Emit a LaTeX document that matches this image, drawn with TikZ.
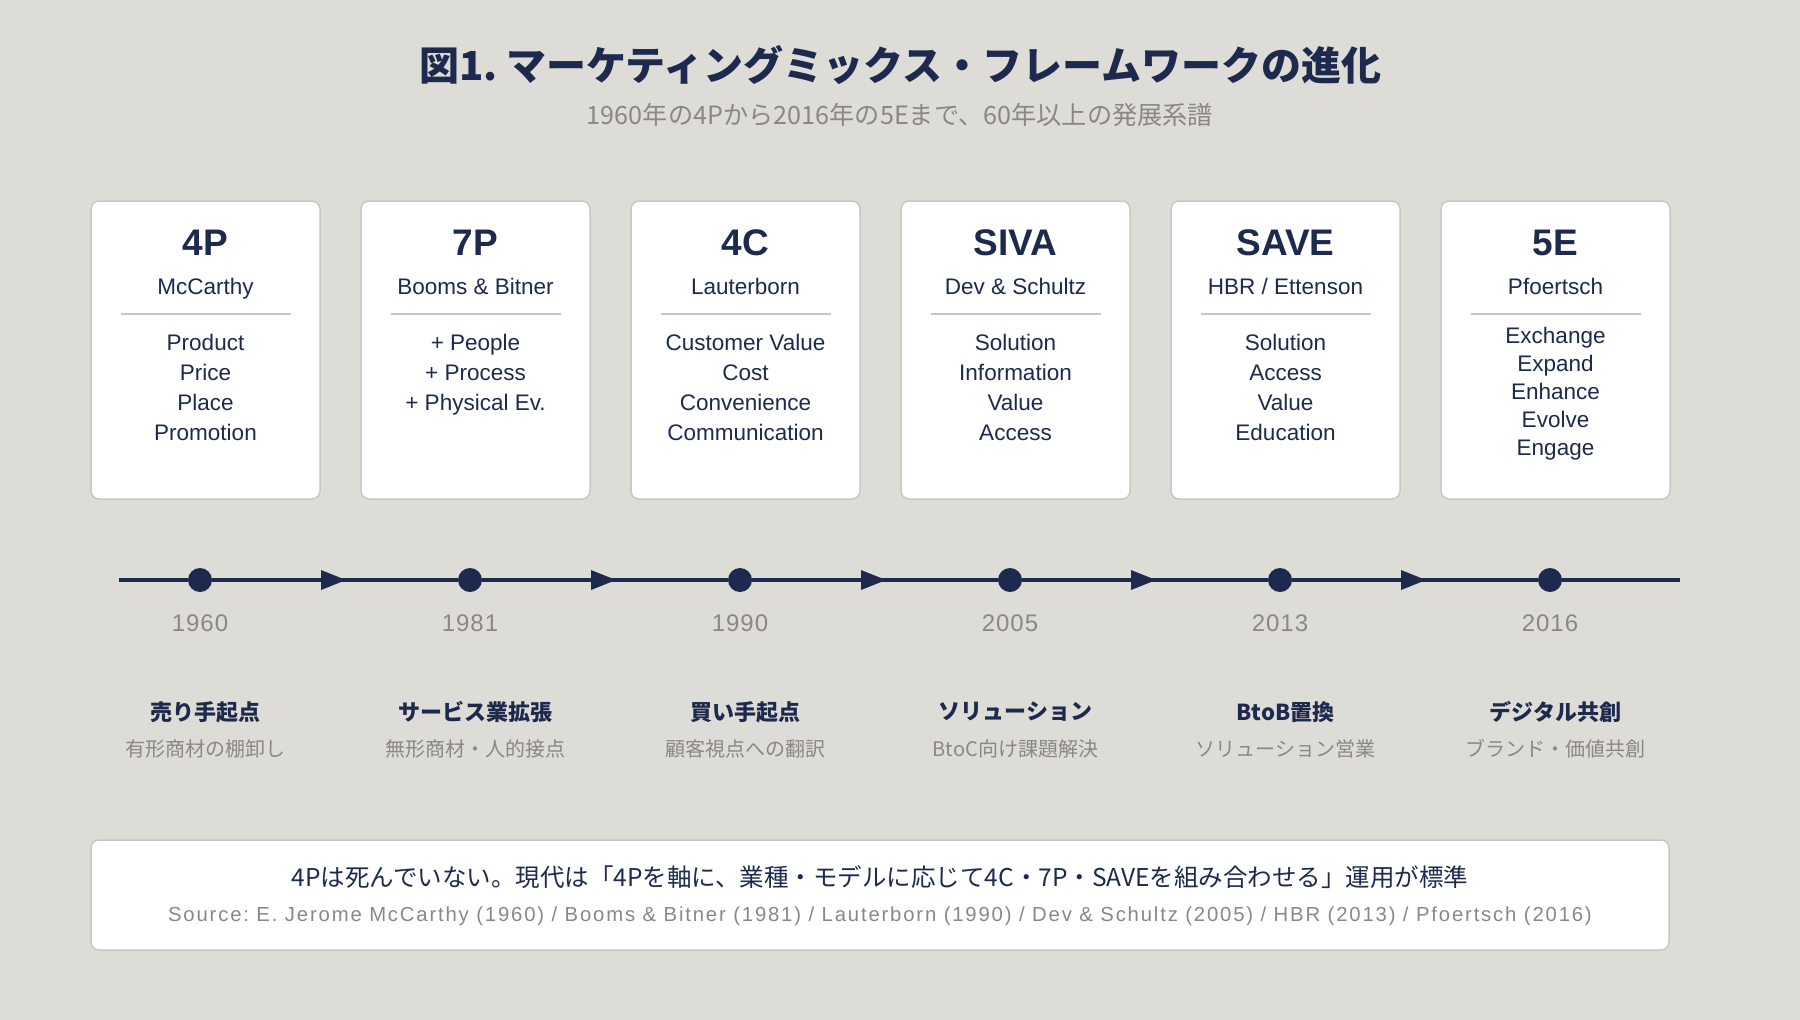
\documentclass[tikz,border=0pt]{standalone}
\usepackage{fontspec}
\setmainfont{Liberation Sans}
\newfontfamily\jp{Noto Sans CJK JP}
\newfontfamily\srcfont{Liberation Sans}[LetterSpace=9]
\newfontfamily\yearfont{Liberation Sans}[LetterSpace=4]
\usetikzlibrary{decorations.markings}
\definecolor{bg}{HTML}{DDDCD7}
\definecolor{navy}{HTML}{1E2A4D}
\definecolor{graytxt}{HTML}{8A8881}
\definecolor{cardline}{HTML}{C9C7C1}
\newcommand{\fs}[1]{\fontsize{#1}{#1}\selectfont}
\frenchspacing
\tikzset{
  card/.style={draw=cardline, line width=1.5pt, fill=white, rounded corners=8pt, minimum width=229pt, minimum height=298pt, inner sep=0pt},
  cardhead/.style={text=navy, font=\bfseries\fs{37}, inner sep=0pt, anchor=base},
  cardauthor/.style={text=navy, font=\fs{22.5}, inner sep=0pt, anchor=base},
  carditem/.style={text=navy, font=\fs{22.5}, inner sep=0pt, anchor=base},
  sep/.style={draw=cardline, line width=2pt},
  dotnode/.style={circle, fill=navy, minimum size=24pt, inner sep=0pt},
  tline/.style={draw=navy, line width=4pt},
  midarrow/.style={tline, postaction={decorate}, decoration={markings, mark=at position 0.5 with {\fill[navy] (-14pt,-10pt) -- (11pt,0pt) -- (-14pt,10pt) -- cycle;}}},
  year/.style={text=graytxt, font=\yearfont\fs{24}, inner sep=0pt, anchor=base},
  lab/.style={text=navy, font=\jp\bfseries\fs{22}, inner sep=0pt},
  sublab/.style={text=graytxt, font=\jp\fs{20}, inner sep=0pt},
}
\begin{document}
\begin{tikzpicture}[x=1pt, y=-1pt]
\useasboundingbox (0,0) rectangle (1800,1020);
\fill[bg] (0,0) rectangle (1800,1020);
% title
\node[text=navy, font=\jp\bfseries\fs{40}, inner sep=0pt] (title) at (900,65) {図1. マーケティングミックス・フレームワークの進化};
\node[text=graytxt, font=\jp\fs{25.2}, inner sep=0pt] (subtitle) at (900,115) {1960年の4Pから2016年の5Eまで、60年以上の発展系譜};
% cards
\foreach \i/\h/\a in {0/4P/McCarthy, 1/7P/{Booms \& Bitner}, 2/4C/Lauterborn, 3/SIVA/{Dev \& Schultz}, 4/SAVE/{HBR / Ettenson}, 5/5E/Pfoertsch} {
  \pgfmathsetmacro{\cx}{205.5+270*\i}
  \node[card] (card\i) at (\cx,350) {};
  \node[cardhead] (head\i) at (\cx,255) {\h};
  \node[cardauthor] (auth\i) at (\cx,294) {\a};
  \draw[sep] (\cx-85,314) -- (\cx+85,314);
}
% items
\foreach \t [count=\k from 0] in {Product, Price, Place, Promotion} {
  \node[carditem] (ia\k) at (205.5,350+30*\k) {\t};
}
\foreach \t [count=\k from 0] in {+ People, + Process, + Physical Ev.} {
  \node[carditem] (ib\k) at (475.5,350+30*\k) {\t};
}
\foreach \t [count=\k from 0] in {Customer Value, Cost, Convenience, Communication} {
  \node[carditem] (ic\k) at (745.5,350+30*\k) {\t};
}
\foreach \t [count=\k from 0] in {Solution, Information, Value, Access} {
  \node[carditem] (id\k) at (1015.5,350+30*\k) {\t};
}
\foreach \t [count=\k from 0] in {Solution, Access, Value, Education} {
  \node[carditem] (ie\k) at (1285.5,350+30*\k) {\t};
}
\foreach \t [count=\k from 0] in {Exchange, Expand, Enhance, Evolve, Engage} {
  \node[carditem] (if\k) at (1555.5,343+28*\k) {\t};
}
% timeline
\coordinate (tlstart) at (119,580);
\coordinate (tlend) at (1680,580);
\foreach \i in {0,...,5} {
  \node[dotnode] (dot\i) at (200+270*\i,580) {};
}
\draw[tline] (tlstart) -- (dot0);
\foreach \i/\j in {0/1,1/2,2/3,3/4,4/5} {
  \draw[midarrow] (dot\i) -- (dot\j);
}
\draw[tline] (dot5) -- (tlend);
\foreach \i/\y in {0/1960,1/1981,2/1990,3/2005,4/2013,5/2016} {
  \node[year] (year\i) at (200+270*\i,631) {\y};
}
% labels
\foreach \i/\l/\s in {0/売り手起点/有形商材の棚卸し, 1/サービス業拡張/無形商材・人的接点, 2/買い手起点/顧客視点への翻訳, 3/ソリューション/BtoC向け課題解決, 4/BtoB置換/ソリューション営業, 5/デジタル共創/ブランド・価値共創} {
  \node[lab] (lab\i) at (205.5+270*\i,712) {\l};
  \node[sublab] (sub\i) at (205.5+270*\i,749) {\s};
}
% bottom box
\node[card, minimum width=1578pt, minimum height=110pt] (note) at (880,895) {};
\node[text=navy, font=\jp\fs{24.5}, inner sep=0pt] (notetext) at (880,877) {4Pは死んでいない。現代は「4Pを軸に、業種・モデルに応じて4C・7P・SAVEを組み合わせる」運用が標準};
\node[text=graytxt, font=\srcfont\fs{20.3}, inner sep=0pt, anchor=base] (source) at (880,921) {Source: E. Jerome McCarthy (1960) / Booms \& Bitner (1981) / Lauterborn (1990) / Dev \& Schultz (2005) / HBR (2013) / Pfoertsch (2016)};
\end{tikzpicture}
\end{document}
